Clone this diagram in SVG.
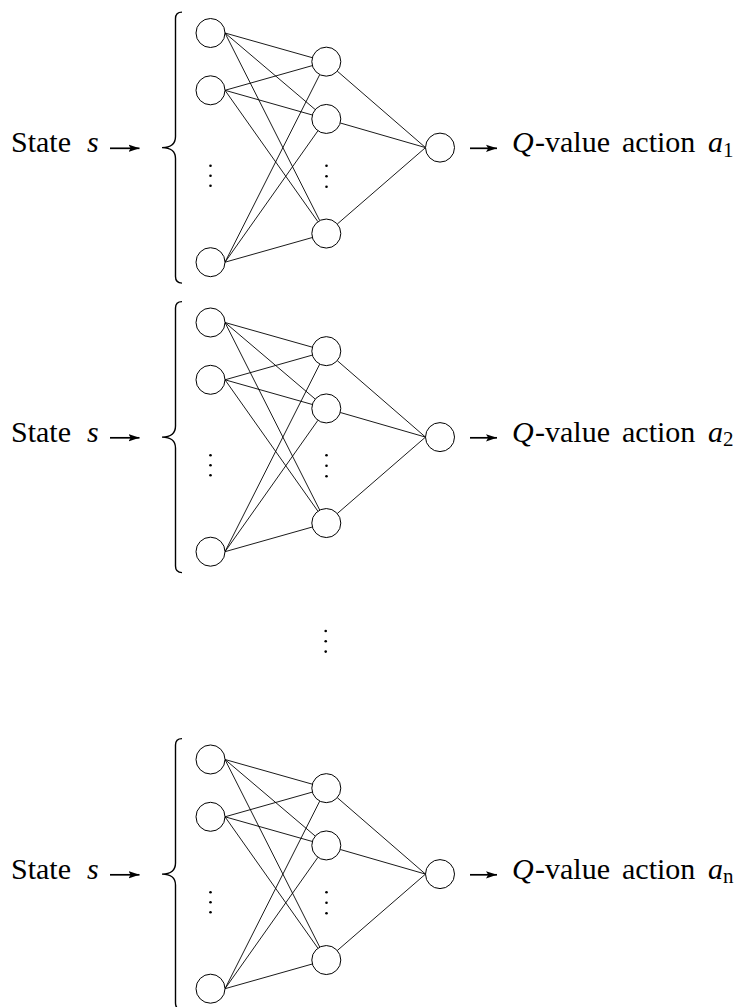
<svg xmlns="http://www.w3.org/2000/svg" width="739" height="1007" viewBox="0 0 739 1007">
<style>
.node{fill:#fff;stroke:#000;stroke-width:1}
.edge{stroke:#000;stroke-width:0.9;fill:none}
.brace{stroke:#000;stroke-width:1.4;fill:none}
.arr{stroke:#000;stroke-width:1.7;fill:none}
.dot{fill:#000}
.lbl{font-family:"Liberation Serif",serif;font-size:30px;fill:#000}
.it{font-style:italic}
.sub{font-size:21px}
</style>
<defs>
<marker id="ah" markerUnits="userSpaceOnUse" markerWidth="14" markerHeight="10" viewBox="0 0 14 10" refX="11" refY="5" orient="auto">
<path d="M0,1.4 L11,5 L0,8.6 L2.2,5 Z" fill="#000"/>
</marker>
</defs>

<!-- Block 1 -->
<g id="block1" transform="translate(0,147.6)">
<g id="b1-connectors">
<path class="edge" d="M225,-114.6 L312.35,-89.9 M225,-114.6 L315.24,-38.03 M225,-114.6 L319.76,73.01 M225,-57.3 L312.35,-82 M225,-57.3 L312.35,-32.6 M225,-57.3 L317.93,74.11 M225,114.6 L319.76,-73.01 M225,114.6 L317.93,-16.81 M225,114.6 L312.35,89.9 M337.26,-76.46 L425.5,0 M340.23,-24.63 L425.5,0 M337.26,76.46 L425.5,0"/>
<line class="arr" x1="110" y1="0.7" x2="139.5" y2="0.7" marker-end="url(#ah)"/>
<line class="arr" x1="470" y1="0.7" x2="497" y2="0.7" marker-end="url(#ah)"/>
<path class="brace" d="M182,-135.5 Q175.5,-135.5 175.5,-129 L175.5,-11 C175.5,-4 171,0 162,0 C171,0 175.5,4 175.5,11 L175.5,129 Q175.5,135.5 182,135.5"/>
</g>
<g id="b1-in1"><circle class="node" cx="210.5" cy="-114.6" r="14.5"/></g>
<g id="b1-in2"><circle class="node" cx="210.5" cy="-57.3" r="14.5"/></g>
<g id="b1-in-dots"><circle class="dot" cx="210.5" cy="18.1" r="1.3"/><circle class="dot" cx="210.5" cy="28.1" r="1.3"/><circle class="dot" cx="210.5" cy="38.1" r="1.3"/></g>
<g id="b1-in3"><circle class="node" cx="210.5" cy="114.6" r="14.5"/></g>
<g id="b1-h1"><circle class="node" cx="326.3" cy="-85.95" r="14.5"/></g>
<g id="b1-h2"><circle class="node" cx="326.3" cy="-28.65" r="14.5"/></g>
<g id="b1-h-dots"><circle class="dot" cx="326.5" cy="18.1" r="1.3"/><circle class="dot" cx="326.5" cy="28.6" r="1.3"/><circle class="dot" cx="326.5" cy="39.1" r="1.3"/></g>
<g id="b1-h3"><circle class="node" cx="326.3" cy="85.95" r="14.5"/></g>
<g id="b1-out"><circle class="node" cx="440" cy="0" r="14.5"/></g>
<g id="b1-state"><text class="lbl" x="11" y="4.7">State <tspan class="it" x="87">s</tspan></text></g>
<g id="b1-qlabel"><text class="lbl" x="512" y="4.7"><tspan class="it">Q</tspan><tspan x="535">-value</tspan> <tspan x="622">action</tspan> <tspan class="it" x="708">a</tspan><tspan class="sub" x="723" dy="4.5">1</tspan></text></g>
</g>

<!-- Block 2 -->
<g id="block2" transform="translate(0,437.1)">
<g id="b2-connectors">
<path class="edge" d="M225,-114.6 L312.35,-89.9 M225,-114.6 L315.24,-38.03 M225,-114.6 L319.76,73.01 M225,-57.3 L312.35,-82 M225,-57.3 L312.35,-32.6 M225,-57.3 L317.93,74.11 M225,114.6 L319.76,-73.01 M225,114.6 L317.93,-16.81 M225,114.6 L312.35,89.9 M337.26,-76.46 L425.5,0 M340.23,-24.63 L425.5,0 M337.26,76.46 L425.5,0"/>
<line class="arr" x1="110" y1="0.7" x2="139.5" y2="0.7" marker-end="url(#ah)"/>
<line class="arr" x1="470" y1="0.7" x2="497" y2="0.7" marker-end="url(#ah)"/>
<path class="brace" d="M182,-135.5 Q175.5,-135.5 175.5,-129 L175.5,-11 C175.5,-4 171,0 162,0 C171,0 175.5,4 175.5,11 L175.5,129 Q175.5,135.5 182,135.5"/>
</g>
<g id="b2-in1"><circle class="node" cx="210.5" cy="-114.6" r="14.5"/></g>
<g id="b2-in2"><circle class="node" cx="210.5" cy="-57.3" r="14.5"/></g>
<g id="b2-in-dots"><circle class="dot" cx="210.5" cy="18.1" r="1.3"/><circle class="dot" cx="210.5" cy="28.1" r="1.3"/><circle class="dot" cx="210.5" cy="38.1" r="1.3"/></g>
<g id="b2-in3"><circle class="node" cx="210.5" cy="114.6" r="14.5"/></g>
<g id="b2-h1"><circle class="node" cx="326.3" cy="-85.95" r="14.5"/></g>
<g id="b2-h2"><circle class="node" cx="326.3" cy="-28.65" r="14.5"/></g>
<g id="b2-h-dots"><circle class="dot" cx="326.5" cy="18.1" r="1.3"/><circle class="dot" cx="326.5" cy="28.6" r="1.3"/><circle class="dot" cx="326.5" cy="39.1" r="1.3"/></g>
<g id="b2-h3"><circle class="node" cx="326.3" cy="85.95" r="14.5"/></g>
<g id="b2-out"><circle class="node" cx="440" cy="0" r="14.5"/></g>
<g id="b2-state"><text class="lbl" x="11" y="4.7">State <tspan class="it" x="87">s</tspan></text></g>
<g id="b2-qlabel"><text class="lbl" x="512" y="4.7"><tspan class="it">Q</tspan><tspan x="535">-value</tspan> <tspan x="622">action</tspan> <tspan class="it" x="708">a</tspan><tspan class="sub" x="723" dy="4.5">2</tspan></text></g>
</g>

<!-- vertical ellipsis between blocks -->
<g id="middle-dots"><circle class="dot" cx="325.7" cy="631" r="1.3"/><circle class="dot" cx="325.7" cy="641.3" r="1.3"/><circle class="dot" cx="325.7" cy="651.6" r="1.3"/></g>

<!-- Block 3 -->
<g id="block3" transform="translate(0,874.1)">
<g id="b3-connectors">
<path class="edge" d="M225,-114.6 L312.35,-89.9 M225,-114.6 L315.24,-38.03 M225,-114.6 L319.76,73.01 M225,-57.3 L312.35,-82 M225,-57.3 L312.35,-32.6 M225,-57.3 L317.93,74.11 M225,114.6 L319.76,-73.01 M225,114.6 L317.93,-16.81 M225,114.6 L312.35,89.9 M337.26,-76.46 L425.5,0 M340.23,-24.63 L425.5,0 M337.26,76.46 L425.5,0"/>
<line class="arr" x1="110" y1="0.7" x2="139.5" y2="0.7" marker-end="url(#ah)"/>
<line class="arr" x1="470" y1="0.7" x2="497" y2="0.7" marker-end="url(#ah)"/>
<path class="brace" d="M182,-135.5 Q175.5,-135.5 175.5,-129 L175.5,-11 C175.5,-4 171,0 162,0 C171,0 175.5,4 175.5,11 L175.5,129 Q175.5,135.5 182,135.5"/>
</g>
<g id="b3-in1"><circle class="node" cx="210.5" cy="-114.6" r="14.5"/></g>
<g id="b3-in2"><circle class="node" cx="210.5" cy="-57.3" r="14.5"/></g>
<g id="b3-in-dots"><circle class="dot" cx="210.5" cy="18.1" r="1.3"/><circle class="dot" cx="210.5" cy="28.1" r="1.3"/><circle class="dot" cx="210.5" cy="38.1" r="1.3"/></g>
<g id="b3-in3"><circle class="node" cx="210.5" cy="114.6" r="14.5"/></g>
<g id="b3-h1"><circle class="node" cx="326.3" cy="-85.95" r="14.5"/></g>
<g id="b3-h2"><circle class="node" cx="326.3" cy="-28.65" r="14.5"/></g>
<g id="b3-h-dots"><circle class="dot" cx="326.5" cy="18.1" r="1.3"/><circle class="dot" cx="326.5" cy="28.6" r="1.3"/><circle class="dot" cx="326.5" cy="39.1" r="1.3"/></g>
<g id="b3-h3"><circle class="node" cx="326.3" cy="85.95" r="14.5"/></g>
<g id="b3-out"><circle class="node" cx="440" cy="0" r="14.5"/></g>
<g id="b3-state"><text class="lbl" x="11" y="4.7">State <tspan class="it" x="87">s</tspan></text></g>
<g id="b3-qlabel"><text class="lbl" x="512" y="4.7"><tspan class="it">Q</tspan><tspan x="535">-value</tspan> <tspan x="622">action</tspan> <tspan class="it" x="708">a</tspan><tspan class="sub" x="723" dy="4.5">n</tspan></text></g>
</g>
</svg>
